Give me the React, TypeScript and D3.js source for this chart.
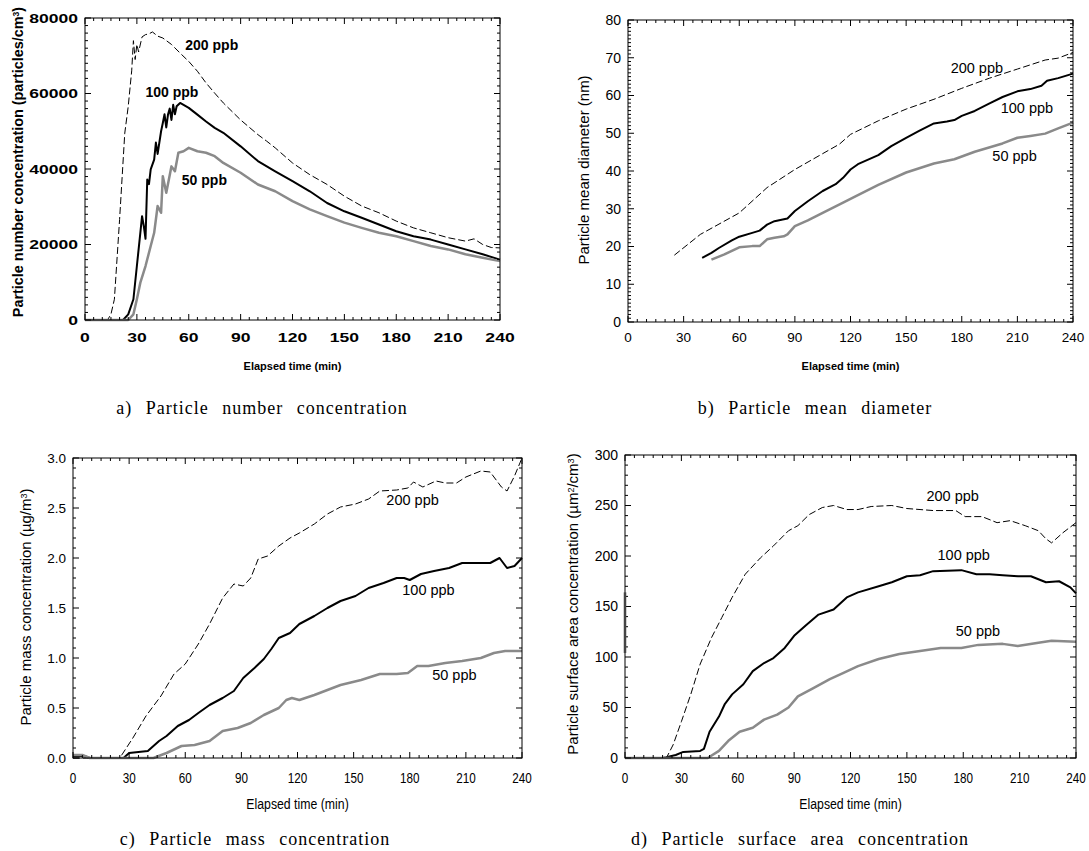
import React from "react";
import * as d3 from "d3";

// elapsed time (min) vs value
const number200: [number, number][] = [
  [0, 0], [13, 0], [15, 1500], [17, 5500], [20, 26600], [23, 49500], [25, 56600], [27, 66000],
  [28, 74000], [29, 69000], [30, 73000], [31, 71000], [33, 75000], [35, 75600], [37, 75800],
  [39, 76300], [42, 75200], [45, 74700], [50, 73000], [55, 70700], [60, 68500], [65, 65900],
  [70, 62800], [75, 60100], [80, 57500], [90, 53000], [100, 49100], [105, 47400], [110, 45600],
  [120, 41600], [130, 38500], [140, 35900], [150, 32800], [160, 30200], [170, 28400], [180, 26200],
  [190, 24400], [200, 23100], [210, 21800], [220, 20900], [225, 21500], [230, 20000], [235, 19200], [240, 19100],
];
const number100: [number, number][] = [
  [0, 0], [22, 0], [25, 1500], [28, 5500], [30, 14300], [32, 23100], [33, 27500], [34, 24900],
  [35, 21500], [36, 37200], [37, 36000], [38, 39900], [40, 42500], [41, 47000], [42, 44000],
  [44, 50000], [45, 52200], [46, 54500], [47, 51000], [48, 54400], [49, 56000], [50, 53000],
  [51, 57000], [52, 54500], [53, 56600], [55, 57500], [60, 56200], [65, 54400], [70, 52600],
  [75, 50900], [80, 49600], [90, 46000], [100, 42100], [110, 39400], [120, 36800], [130, 34100],
  [140, 31000], [150, 28800], [160, 27100], [170, 25300], [180, 23500], [190, 22200], [200, 21300],
  [210, 20000], [220, 18700], [230, 17400], [240, 16000],
];
const number50: [number, number][] = [
  [0, 0], [25, 0], [28, 1500], [30, 5500], [32, 9900], [35, 14300], [38, 19600], [40, 23100],
  [42, 30200], [44, 28400], [45, 38100], [47, 33700], [50, 40700], [52, 39400], [54, 44300],
  [57, 44700], [60, 45600], [65, 44700], [70, 44300], [75, 43400], [80, 41600], [90, 39000],
  [100, 35900], [110, 34100], [120, 31500], [130, 29300], [140, 27500], [150, 25800], [160, 24400],
  [170, 23100], [180, 22200], [190, 20900], [200, 19600], [210, 18700], [220, 17400], [230, 16500], [240, 15600],
];

const diameter200: [number, number][] = [
  [25, 17.7], [39, 23.2], [60, 28.9], [75, 35.6], [90, 40.4], [105, 44.6], [114, 47.1], [120, 49.7],
  [135, 53.3], [150, 56.4], [165, 59.0], [180, 61.9], [195, 64.6], [210, 67.0], [225, 69.4],
  [232, 69.9], [240, 71.4],
];
const diameter100: [number, number][] = [
  [40, 17.0], [45, 18.3], [49, 19.6], [56, 21.6], [60, 22.6], [67, 23.6], [71, 24.2], [75, 25.8],
  [79, 26.7], [86, 27.4], [90, 29.4], [97, 32.0], [105, 34.7], [112, 36.5], [116, 38.2], [120, 40.4],
  [124, 41.8], [135, 44.2], [142, 46.6], [150, 48.8], [157, 50.6], [165, 52.6], [172, 53.1],
  [176, 53.5], [180, 54.6], [187, 55.9], [195, 57.9], [202, 59.6], [210, 61.1], [217, 61.7],
  [223, 62.6], [226, 63.9], [232, 64.6], [240, 65.8],
];
const diameter50: [number, number][] = [
  [45, 16.5], [52, 17.9], [60, 19.8], [67, 20.1], [71, 20.1], [75, 21.9], [79, 22.3], [84, 22.7],
  [86, 23.2], [90, 25.4], [97, 26.9], [105, 28.9], [116, 31.6], [124, 33.6], [135, 36.3],
  [150, 39.6], [165, 42.0], [176, 43.1], [187, 45.1], [202, 47.3], [210, 48.8], [217, 49.3],
  [225, 49.9], [232, 51.3], [240, 52.8],
];

const mass200: [number, number][] = [
  [0, 0], [25, 0], [32, 0.2], [39, 0.42], [47, 0.62], [54, 0.84], [60, 0.94], [67, 1.14], [73, 1.34],
  [80, 1.6], [86, 1.74], [91, 1.72], [95, 1.8], [99, 1.99], [104, 2.02], [110, 2.12], [116, 2.2],
  [121, 2.25], [129, 2.34], [136, 2.44], [143, 2.51], [151, 2.54], [158, 2.59], [164, 2.67],
  [173, 2.68], [179, 2.7], [182, 2.76], [187, 2.71], [194, 2.77], [199, 2.75], [205, 2.75],
  [210, 2.81], [218, 2.87], [223, 2.86], [229, 2.71], [232, 2.67], [236, 2.82], [240, 3.0],
];
const mass100: [number, number][] = [
  [0, 0.02], [6, 0.02], [9, 0], [27, 0], [30, 0.05], [40, 0.07], [46, 0.17], [50, 0.22], [56, 0.32],
  [62, 0.38], [67, 0.45], [73, 0.53], [80, 0.6], [86, 0.67], [91, 0.8], [97, 0.9], [102, 0.99],
  [106, 1.09], [110, 1.2], [116, 1.25], [121, 1.34], [129, 1.42], [136, 1.5], [143, 1.57],
  [151, 1.62], [158, 1.7], [166, 1.75], [173, 1.8], [177, 1.8], [180, 1.78], [186, 1.84],
  [193, 1.87], [201, 1.9], [208, 1.95], [216, 1.95], [223, 1.95], [228, 2.0], [232, 1.9],
  [236, 1.92], [240, 2.0],
];
const mass50: [number, number][] = [
  [0, 0.03], [5, 0.03], [9, 0], [43, 0], [50, 0.05], [58, 0.12], [65, 0.13], [73, 0.17], [80, 0.27],
  [88, 0.3], [95, 0.35], [102, 0.43], [110, 0.5], [114, 0.58], [117, 0.6], [121, 0.58], [129, 0.63],
  [136, 0.68], [143, 0.73], [154, 0.78], [164, 0.84], [173, 0.84], [179, 0.85], [184, 0.92],
  [190, 0.92], [199, 0.95], [208, 0.97], [218, 1.0], [225, 1.05], [231, 1.07], [240, 1.07],
];

const surface200: [number, number][] = [
  [0, 0], [22, 0], [25.6, 13], [30, 36], [35, 63], [40, 93], [46, 119], [51.5, 139], [57, 159],
  [64, 182], [72, 198], [79, 210], [87, 225], [92, 230], [98, 241], [105, 248], [111, 250],
  [118, 246], [124, 246], [131, 249], [142, 250], [150, 247], [157, 246], [164, 245], [176, 245],
  [181, 239], [190, 239], [198, 233], [205, 235], [213, 230], [220, 225], [224, 217], [227, 213],
  [233, 223], [240, 233],
];
const surface100: [number, number][] = [
  [0, 0], [20, 0], [22, 0.7], [27, 3], [31, 6], [40, 7], [42, 9], [45, 26], [50, 41], [53, 53],
  [57, 63], [63, 73], [68, 86], [74, 94], [79, 99], [85, 109], [90, 121], [96, 131], [103, 142],
  [111, 147], [118, 159], [124, 164], [135, 170], [142, 174], [150, 180], [157, 181], [164, 185],
  [179, 186], [187, 182], [194, 182], [201, 181], [209, 180], [216, 180], [224, 174], [231, 175],
  [237, 169], [240, 163],
];
const surface50: [number, number][] = [
  [0, 0], [44, 0], [50, 7], [55, 17], [61, 26], [68, 30], [74, 38], [81, 43], [87, 50], [92, 61],
  [100, 69], [109, 78], [116, 84], [124, 91], [135, 98], [146, 103], [157, 106], [168, 109],
  [179, 109], [188, 112], [201, 113], [209, 111], [220, 114], [227, 116], [240, 115],
];

const seriesNames = ["200 ppb", "100 ppb", "50 ppb"];
const xTicks = [0, 30, 60, 90, 120, 150, 180, 210, 240];

const styles = [
  { stroke: "#000", width: 1, dash: "7,3" },
  { stroke: "#000", width: 2, dash: null },
  { stroke: "#8a8a8a", width: 2.5, dash: null },
];

type Lbl = { t: number; v: number };
type Font = { size: number; weight: string; sx: number };

type PanelProps = {
  box: { left: number; right: number; top: number; bottom: number };
  yMax: number;
  yMajor: number;
  yMinor: number;
  yFmt: (v: number) => string;
  data: [number, number][][];
  labels: Lbl[];
  labelFont: Font;
  yTickFont: Font;
  xTickFont: Font;
  xTitleFont: Font;
  yTitle: React.ReactNode;
  yTitleFont: Font;
  yTitleX: number;
  yTitleY: number;
  xLabelY: number;
  xTitleY: number;
  caption: string;
  captionX: number;
  captionY: number;
  extra?: (y: d3.ScaleLinear<number, number>) => React.ReactNode;
};

function Panel(p: PanelProps) {
  const { box } = p;
  const x = d3.scaleLinear().domain([0, 240]).range([box.left, box.right]);
  const y = d3.scaleLinear().domain([0, p.yMax]).range([box.bottom, box.top]);
  const line = d3
    .line<[number, number]>()
    .x((d) => x(d[0]))
    .y((d) => y(d[1]));
  const xMinor = d3.range(0, 241, 5);
  const yMinor = d3.range(0, p.yMax + p.yMinor / 2, p.yMinor);
  const yMajor = d3.range(0, p.yMax + p.yMajor / 2, p.yMajor);
  const isMajorX = (t: number) => t % 30 === 0;
  const isMajorY = (v: number) => Math.abs(v / p.yMajor - Math.round(v / p.yMajor)) < 1e-6;
  const cx = (box.left + box.right) / 2;

  return (
    <g>
      {p.data.map((d, i) => (
        <path
          key={i}
          d={line(d) ?? ""}
          fill="none"
          stroke={styles[i].stroke}
          strokeWidth={styles[i].width}
          strokeDasharray={styles[i].dash ?? undefined}
          strokeLinejoin="round"
        />
      ))}
      <rect
        x={box.left}
        y={box.top}
        width={box.right - box.left}
        height={box.bottom - box.top}
        fill="none"
        stroke="#000"
        strokeWidth={1}
      />
      {xMinor.map((t) => {
        const len = isMajorX(t) ? 6 : 3;
        return (
          <g key={"xt" + t} stroke="#000" strokeWidth={1}>
            <line x1={x(t)} x2={x(t)} y1={box.bottom} y2={box.bottom - len} />
            <line x1={x(t)} x2={x(t)} y1={box.top} y2={box.top + len} />
          </g>
        );
      })}
      {yMinor.map((v) => {
        const len = isMajorY(v) ? 6 : 3;
        return (
          <g key={"yt" + v} stroke="#000" strokeWidth={1}>
            <line x1={box.left} x2={box.left + len} y1={y(v)} y2={y(v)} />
            <line x1={box.right} x2={box.right - len} y1={y(v)} y2={y(v)} />
          </g>
        );
      })}
      {p.extra && p.extra(y)}
      {yMajor.map((v) => (
        <text
          key={"yl" + v}
          transform={`translate(${box.left - 7},${y(v)}) scale(${p.yTickFont.sx},1)`}
          dy="0.35em"
          textAnchor="end"
          fontSize={p.yTickFont.size}
          fontWeight={p.yTickFont.weight}
        >
          {p.yFmt(v)}
        </text>
      ))}
      {xTicks.map((t) => (
        <text
          key={"xl" + t}
          transform={`translate(${x(t)},${p.xLabelY}) scale(${p.xTickFont.sx},1)`}
          textAnchor="middle"
          fontSize={p.xTickFont.size}
          fontWeight={p.xTickFont.weight}
        >
          {t}
        </text>
      ))}
      <text
        transform={`translate(${cx},${p.xTitleY}) scale(${p.xTitleFont.sx},1)`}
        textAnchor="middle"
        fontSize={p.xTitleFont.size}
        fontWeight={p.xTitleFont.weight}
      >
        Elapsed time (min)
      </text>
      <text
        transform={`translate(${p.yTitleX},${p.yTitleY}) rotate(-90) scale(${p.yTitleFont.sx},1)`}
        textAnchor="middle"
        fontSize={p.yTitleFont.size}
        fontWeight={p.yTitleFont.weight}
      >
        {p.yTitle}
      </text>
      {p.labels.map((l, i) => (
        <text
          key={"lb" + i}
          transform={`translate(${x(l.t)},${y(l.v)}) scale(${p.labelFont.sx},1)`}
          dy="0.35em"
          fontSize={p.labelFont.size}
          fontWeight={p.labelFont.weight}
        >
          {seriesNames[i]}
        </text>
      ))}
      <text
        x={p.captionX}
        y={p.captionY}
        textAnchor="middle"
        fontFamily="'Liberation Serif', 'Times New Roman', serif"
        fontSize={18}
        letterSpacing={1}
        wordSpacing={8}
      >
        {p.caption}
      </text>
    </g>
  );
}

const sup = (s: string) => (
  <tspan fontSize="0.6em" dy="-0.45em">
    {s}
  </tspan>
);
const unsup = (s: string) => <tspan dy="0.27em">{s}</tspan>;

const boldA: Font = { size: 13, weight: "bold", sx: 1.35 };

export default function App() {
  return (
    <svg
      width={1089}
      height={851}
      style={{ position: "absolute", left: 0, top: 0, background: "#fff" }}
      fontFamily="'Liberation Sans', Arial, sans-serif"
    >
      <rect width={1089} height={851} fill="#fff" />
      <Panel
        box={{ left: 85, right: 500, top: 18, bottom: 320 }}
        yMax={80000}
        yMajor={20000}
        yMinor={2000}
        yFmt={(v) => String(v)}
        data={[number200, number100, number50]}
        labels={[{ t: 58, v: 72700 }, { t: 35, v: 60400 }, { t: 56, v: 37000 }]}
        labelFont={{ size: 14, weight: "bold", sx: 1 }}
        yTickFont={boldA}
        xTickFont={boldA}
        xTitleFont={{ size: 11, weight: "bold", sx: 1 }}
        yTitle={<>Particle number concentration (particles/cm{sup("3")}{unsup(")")}</>}
        yTitleFont={{ size: 14.4, weight: "bold", sx: 1 }}
        yTitleX={23}
        yTitleY={162}
        xLabelY={342}
        xTitleY={370}
        caption="a) Particle number concentration"
        captionX={262}
        captionY={414}
      />
      <Panel
        box={{ left: 628, right: 1073, top: 20, bottom: 322 }}
        yMax={80}
        yMajor={10}
        yMinor={1}
        yFmt={(v) => String(v)}
        data={[diameter200, diameter100, diameter50]}
        labels={[{ t: 174, v: 67.4 }, { t: 201, v: 56.6 }, { t: 196.5, v: 44 }]}
        labelFont={{ size: 14.5, weight: "normal", sx: 1 }}
        yTickFont={{ size: 14, weight: "normal", sx: 1 }}
        xTickFont={{ size: 13.5, weight: "normal", sx: 1 }}
        xTitleFont={{ size: 11, weight: "bold", sx: 1 }}
        yTitle={<>Particle mean diameter (nm)</>}
        yTitleFont={{ size: 15, weight: "normal", sx: 1 }}
        yTitleX={589}
        yTitleY={170}
        xLabelY={342}
        xTitleY={370}
        caption="b) Particle mean diameter"
        captionX={815}
        captionY={414}
      />
      <Panel
        box={{ left: 73, right: 522, top: 458, bottom: 758 }}
        yMax={3}
        yMajor={0.5}
        yMinor={0.1}
        yFmt={(v) => v.toFixed(1)}
        data={[mass200, mass100, mass50]}
        labels={[{ t: 167.5, v: 2.58 }, { t: 176, v: 1.68 }, { t: 192, v: 0.835 }]}
        labelFont={{ size: 14.5, weight: "normal", sx: 1 }}
        yTickFont={{ size: 13.5, weight: "normal", sx: 1 }}
        xTickFont={{ size: 15, weight: "normal", sx: 0.78 }}
        xTitleFont={{ size: 15, weight: "normal", sx: 0.82 }}
        yTitle={<>Particle mass concentration (µg/m{sup("3")}{unsup(")")}</>}
        yTitleFont={{ size: 15, weight: "normal", sx: 1 }}
        yTitleX={31}
        yTitleY={607}
        xLabelY={783}
        xTitleY={809}
        caption="c) Particle mass concentration"
        captionX={255}
        captionY={845}
      />
      <Panel
        box={{ left: 625, right: 1076, top: 455, bottom: 758 }}
        yMax={300}
        yMajor={50}
        yMinor={10}
        yFmt={(v) => String(v)}
        data={[surface200, surface100, surface50]}
        labels={[{ t: 160.4, v: 259.6 }, { t: 166.3, v: 201 }, { t: 176, v: 126 }]}
        labelFont={{ size: 14.5, weight: "normal", sx: 1 }}
        yTickFont={{ size: 14, weight: "normal", sx: 1 }}
        xTickFont={{ size: 15, weight: "normal", sx: 0.78 }}
        xTitleFont={{ size: 15, weight: "normal", sx: 0.82 }}
        yTitle={
          <>
            Particle surface area concentration (µm{sup("2")}
            {unsup("/cm")}
            {sup("3")}
            {unsup(")")}
          </>
        }
        yTitleFont={{ size: 15, weight: "normal", sx: 1 }}
        yTitleX={578}
        yTitleY={604}
        xLabelY={783}
        xTitleY={809}
        caption="d) Particle surface area concentration"
        captionX={800}
        captionY={845}
        extra={(y) => (
          <line x1={625} x2={625} y1={y(164)} y2={y(104)} stroke="#444" strokeWidth={2.5} />
        )}
      />
    </svg>
  );
}
